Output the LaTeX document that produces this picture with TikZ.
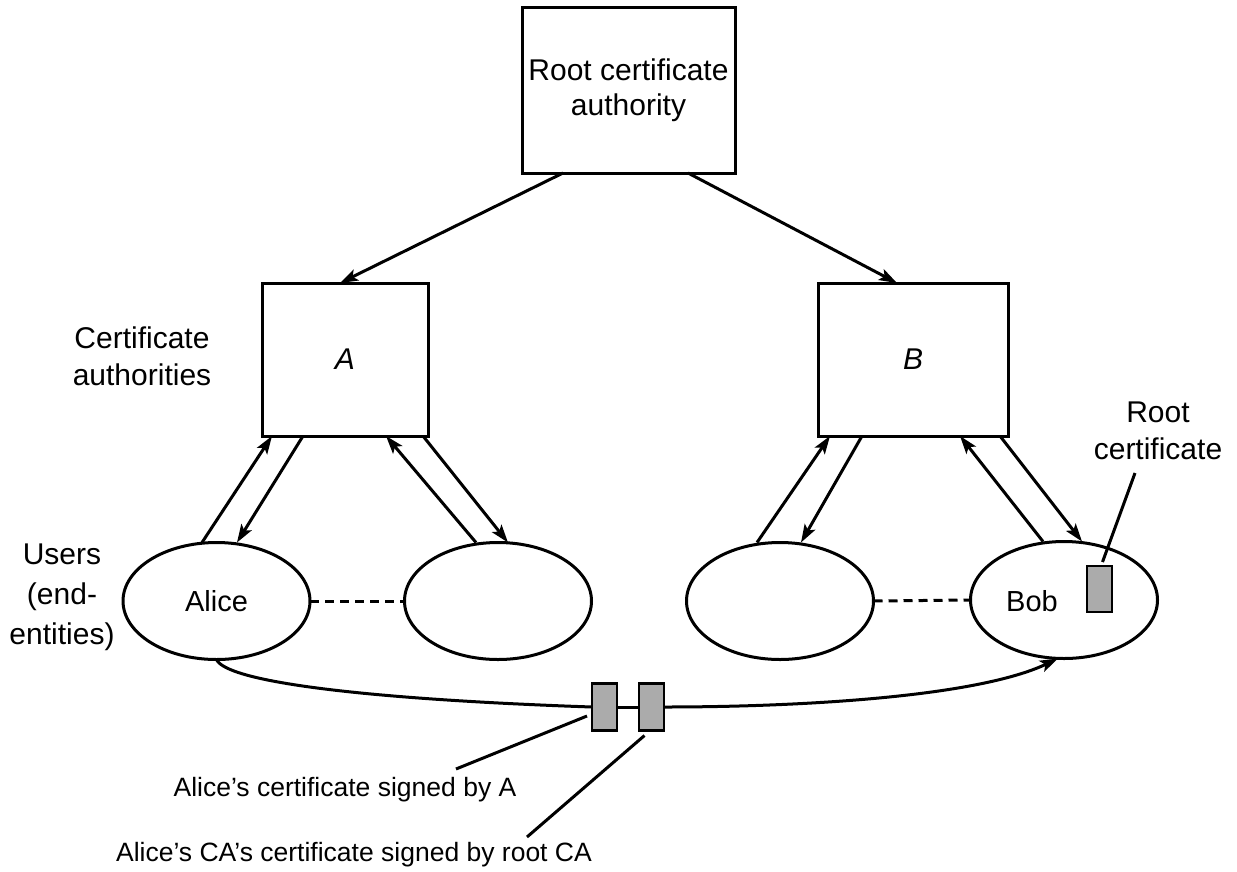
\documentclass[tikz,border=0pt]{standalone}
\usepackage{fontspec}
\setmainfont{Liberation Sans}
\usetikzlibrary{shapes.geometric,arrows.meta,calc}
\begin{document}
\begin{tikzpicture}[x=1pt,y=-1pt,
  lw/.style={line width=3pt},
  box/.style={draw,lw,rectangle,inner sep=0pt,outer sep=0pt,align=center,font=\fontsize{30}{35}\selectfont},
  user/.style={draw,lw,ellipse,minimum width=187pt,minimum height=117pt,inner sep=0pt,outer sep=0pt,font=\fontsize{29}{35}\selectfont},
  cert/.style={draw,line width=2.6pt,fill=black!33,minimum width=25pt,minimum height=47pt,inner sep=0pt,outer sep=0pt},
  arr/.style={lw,-{Stealth[length=18pt,width=12pt,inset=4pt]}},
  lbl/.style={align=center,font=\fontsize{30}{37}\selectfont,inner sep=0pt},
  blbl/.style={align=center,font=\fontsize{26.5}{32}\selectfont,inner sep=0pt},
  dash line/.style={lw,dash pattern=on 9pt off 6pt}
]
\useasboundingbox (0,0) rectangle (1237,871);

% boxes
\node[box,minimum width=213pt,minimum height=166pt] (root) at (628.5,90) {Root certificate\\authority};
\node[box,minimum width=166pt,minimum height=153pt] (A) at (345,359.5) {\itshape A};
\node[box,minimum width=190pt,minimum height=153pt] (B) at (913,359.5) {\itshape B};

% users
\node[user] (alice) at (216.5,601) {Alice};
\node[user] (e2) at (498,601) {};
\node[user] (e3) at (780,601) {};
\node[user] (bob) at (1064,600) {};
\node[font=\fontsize{29}{35}\selectfont,inner sep=0pt] (bobtxt) at (1032,601) {Bob};

% certificates
\node[cert] (c1) at (604.5,707) {};
\node[cert] (c2) at (651.5,707) {};
\node[cert,minimum height=46pt] (rc) at (1099.5,589) {};

% labels
\node[lbl] (calbl) at (142,356) {Certificate\\authorities};
\node[lbl,font=\fontsize{30}{40}\selectfont] (ulbl) at (62,597) {Users\\(end-\\entities)};
\node[lbl] (rclbl) at (1158,431) {Root\\certificate};
\node[blbl] (lab1) at (345,790) {Alice’s certificate signed by A};
\node[blbl] (lab2) at (354,855) {Alice’s CA’s certificate signed by root CA};

% root to CAs
\draw[arr] ([xshift=-65.5pt]root.south) -- ([xshift=-5pt]A.north);
\draw[arr] ([xshift=59.5pt]root.south) -- ([xshift=-16pt]B.north);

% A and its users
\draw[arr] ([xshift=-14.5pt]alice.north) -- ([xshift=-73pt]A.south);
\draw[arr] ([xshift=-42pt]A.south) -- ([xshift=20.5pt]alice.north);
\draw[arr] ([xshift=-22pt]e2.north) -- ([xshift=41pt]A.south);
\draw[arr] ([xshift=78pt]A.south) -- ([xshift=10pt]e2.north);

% B and its users
\draw[arr] ([xshift=-23pt]e3.north) -- ([xshift=-83pt]B.south);
\draw[arr] ([xshift=-51pt]B.south) -- ([xshift=21pt]e3.north);
\draw[arr] ([xshift=-21pt]bob.north) -- ([xshift=47pt]B.south);
\draw[arr] ([xshift=87pt]B.south) -- ([xshift=18pt]bob.north);

% dashed links
\draw[dash line] (alice.east) -- (e2.west);
\draw[dash line] (e3.east) -- (bob.west);

% certificate path
\draw[lw] (alice.south) .. controls +(10,22) and +(-232,-8) .. (c1.west);
\draw[lw] (c1.east) -- (c2.west);
\draw[arr] (c2.east) .. controls +(140,0) and +(-80,38) .. ([xshift=-6pt]bob.south);

% leaders
\coordinate (l1) at (456,769);
\coordinate (l2) at (527,837);
\coordinate (l3) at (1135,473);
\draw[lw] ($(c1.west)+(-5,9)$) -- (l1);
\draw[lw] ($(c2.south)+(-7,5)$) -- (l2);
\draw[lw] ($(rc.north)+(3,-4)$) -- (l3);
\end{tikzpicture}
\end{document}
